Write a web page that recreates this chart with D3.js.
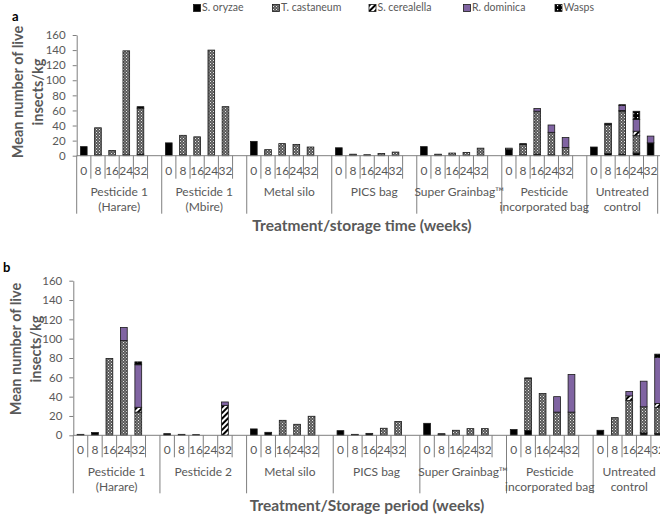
<!DOCTYPE html>
<html><head><meta charset="utf-8">
<script src="https://cdn.jsdelivr.net/npm/d3@7/dist/d3.min.js"></script>
<style>
body{margin:0;background:#fff;}
svg{display:block;font-family:Lato,"Open Sans",sans-serif;}
</style></head>
<body><svg id="c" width="660" height="517"></svg>
<script>
// ---------- data ----------
const weeks = ["0","8","16","24","32"];
const seriesNames = ["S. oryzae","T. castaneum","S. cerealella","R. dominica","Wasps"];
const yTicks = [0,20,40,60,80,100,120,140,160];
const groupLabelsA = [["Pesticide 1","(Harare)"],["Pesticide 1","(Mbire)"],["Metal silo"],["PICS bag"],["Super Grainbag™"],["Pesticide","incorporated bag"],["Untreated","control"]];
const groupLabelsB = [["Pesticide 1","(Harare)"],["Pesticide 2"],["Metal silo"],["PICS bag"],["Super Grainbag™"],["Pesticide","incorporated bag"],["Untreated","control"]];
const titleA = "Treatment/storage time (weeks)";
const titleB = "Treatment/Storage period (weeks)";

// panel a (7 groups x 5 weeks)
const a_oryzae    = [12,1,0,1,2,  17,1,0,0,0,  19,0,0,0,0,  10.5,0.5,0,0,0,  12,0.5,0,0,0,  8,1,2,1,0,  11.5,3,2,3.5,17];
const a_castaneum = [0,36,7,138,61,  0,26,25,140,65,  0,8,16,15,11.5,  0,1.5,1.3,3,4.8,  0,1.5,3.5,4.4,10,  2,14,57,30,11,  0,38,57,23,0];
const a_cerealella= [0,0,0,0,0,  0,0,0,0,0,  0,0,0,0,0,  0,0,0,0,0,  0,0,0,0,0,  0,0,0,0,0,  0,0,1,6,0];
const a_dominica  = [0,0,0,0,0,  0,0,0,0,0,  0,0,0,0,0,  0,0,0,0,0,  0,0,0,0,0,  0,0,3.5,9.7,13,  0,0,6.6,15.4,9];
const a_wasps     = [0,0,0,0,2,  0,0,0,0,0,  0,0,0,0,0,  0,0,0,0,0,  0,0,0,0,0,  0,1,0,0,0,  0,2,1,11,0];

// panel b
const b_oryzae    = [1,2.8,0,0,0,  1.7,1,0.7,0,0,  6.6,3.1,0,0,0,  4.8,1,2,0,0,  12.4,1,0,0,0,  5.9,5,0,0,0,  5.2,0,0,2.5,2];
const b_castaneum = [0,0,79.5,98,24,  0,0,0,0,0,  0,0,15.5,11.4,19.7,  0,0,0,7.3,14.2,  0,0.7,5.2,6.9,6.9,  0,54,43.2,24,24,  0,18.3,36,27,27];
const b_cerealella= [0,0,0,0,5,  0,0,0,0,31,  0,0,0,0,0,  0,0,0,0,0,  0,0,0,0,0,  0,0,0,0,0,  0,0,4.8,0,4];
const b_dominica  = [0,0,0,13.6,44,  0,0,0,0,3.5,  0,0,0,0,0,  0,0,0,0,0,  0,0,0,0,0,  0,0,0,16,38.9,  0,0,4.5,26.5,47.5];
const b_wasps     = [0,0,0,0,3,  0,0,0,0,0,  0,0,0,0,0,  0,0,0,0,0,  0,0,0,0,0,  0,0.4,0,0,0,  0,0,0,0,3.5];

// ---------- drawing ----------
const svg = d3.select("#c");
const defs = svg.append("defs");
const grey = "#595959";

(function(){
  let p = defs.append("pattern").attr("id","pCast").attr("patternUnits","userSpaceOnUse").attr("width",3).attr("height",3);
  p.append("rect").attr("width",3).attr("height",3).attr("fill","#5a5a5a");
  p.append("rect").attr("x",0).attr("y",0).attr("width",1).attr("height",1).attr("fill","#e8e8e8");
  p.append("rect").attr("x",1.5).attr("y",1.5).attr("width",1).attr("height",1).attr("fill","#bdbdbd");
  p = defs.append("pattern").attr("id","pCer").attr("patternUnits","userSpaceOnUse").attr("width",4).attr("height",4).attr("patternTransform","rotate(45)");
  p.append("rect").attr("width",4).attr("height",4).attr("fill","#fff");
  p.append("rect").attr("width",2).attr("height",4).attr("fill","#000");
  p = defs.append("pattern").attr("id","pWasp").attr("patternUnits","userSpaceOnUse").attr("width",4).attr("height",4);
  p.append("rect").attr("width",4).attr("height",4).attr("fill","#000");
  p.append("rect").attr("x",1).attr("y",1).attr("width",1.2).attr("height",1.2).attr("fill","#fff");
})();
const fills = ["#000","url(#pCast)","url(#pCer)","#8064a2","url(#pWasp)"];
const keys = ["oryzae","castaneum","cerealella","dominica","wasps"];

function drawPanel(cfg){
  const g = svg.append("g");
  const nGroups = cfg.groups.length;
  const cats = [];
  const rows = [];
  for(let gi=0; gi<nGroups; gi++){
    for(let w=0; w<weeks.length; w++){
      const k = gi+"-"+w; cats.push(k);
      const i = gi*weeks.length+w;
      rows.push({key:k, oryzae:cfg.s[0][i], castaneum:cfg.s[1][i], cerealella:cfg.s[2][i], dominica:cfg.s[3][i], wasps:cfg.s[4][i]});
    }
    if(gi<nGroups-1) cats.push(gi+"-x");
  }
  const x = d3.scaleBand().domain(cats).range([cfg.x0, cfg.x0 + cats.length*cfg.slot]).padding(0);
  const y = d3.scaleLinear().domain([0,160]).range([cfg.y0, cfg.yTop]);
  const stack = d3.stack().keys(keys)(rows);
  const bw = x.bandwidth()*0.47;

  stack.forEach((layer, li) => {
    g.append("g").selectAll("rect").data(layer.filter(d => d[1]-d[0] > 0)).join("rect")
      .attr("x", d => x(d.data.key) + (x.bandwidth()-bw)/2)
      .attr("y", d => y(d[1]))
      .attr("width", bw)
      .attr("height", d => y(d[0]) - y(d[1]))
      .attr("fill", fills[li])
      .attr("stroke", "#1a1a1a").attr("stroke-width", 0.8);
  });

  const ya = g.append("g").attr("transform", `translate(${cfg.x0},0)`)
    .call(d3.axisLeft(y).tickValues(yTicks).tickSize(4).tickSizeOuter(0).tickPadding(7));
  ya.select(".domain").attr("stroke","#7f7f7f");
  ya.selectAll(".tick line").attr("stroke","#7f7f7f");
  ya.selectAll(".tick text").attr("fill",grey).attr("font-size",11.5).attr("font-family","Lato, sans-serif");

  g.append("line").attr("x1",cfg.x0).attr("x2",660).attr("y1",cfg.y0).attr("y2",cfg.y0).attr("stroke","#7f7f7f");
  const ax = g.append("g");
  cats.forEach((c,i) => {
    const isStart = (i===0) || (cats[i-1].split("-")[0] !== c.split("-")[0]);
    const xl = x(c);
    ax.append("line").attr("x1",xl).attr("x2",xl).attr("y1",cfg.y0)
      .attr("y2", cfg.y0 + (isStart ? cfg.groupLen : cfg.weekLen)).attr("stroke","#7f7f7f");
    const w = c.split("-")[1];
    if(w !== "x"){
      ax.append("text").attr("x", xl + x.bandwidth()/2).attr("y", cfg.y0 + cfg.weekDy)
        .attr("text-anchor","middle").attr("dominant-baseline","middle")
        .attr("fill",grey).attr("font-size",12).text(weeks[+w]);
    }
  });
  const xEnd = x.range()[1];
  ax.append("line").attr("x1",xEnd).attr("x2",xEnd).attr("y1",cfg.y0).attr("y2",cfg.y0+cfg.groupLen).attr("stroke","#7f7f7f");
  cfg.groups.forEach((lines, gi) => {
    const first = x(gi+"-0");
    const last = gi<nGroups-1 ? x(gi+"-x") + x.bandwidth() : x(gi+"-4") + x.bandwidth();
    const cx = (first+last)/2;
    lines.forEach((t, li) => {
      ax.append("text").attr("x",cx).attr("y", cfg.y0 + cfg.grpDy + li*cfg.grpLine)
        .attr("text-anchor","middle").attr("dominant-baseline","middle")
        .attr("fill",grey).attr("font-size",12).text(t);
    });
  });
  g.append("text").attr("x",cfg.titleX).attr("y",cfg.titleY).attr("text-anchor","middle")
    .attr("dominant-baseline","middle").attr("font-weight","bold").attr("font-size",15.5)
    .attr("fill",grey).text(cfg.title);
  const yt = g.append("text").attr("transform",`translate(${cfg.ytX},${cfg.ytY}) rotate(-90)`)
    .attr("text-anchor","middle").attr("font-weight","bold").attr("font-size",14.5).attr("fill",grey);
  yt.append("tspan").attr("x",0).attr("dy",0).text("Mean number of live");
  yt.append("tspan").attr("x",0).attr("dy",20).text("insects/kg");
  svg.append("text").attr("x",cfg.letterX).attr("y",cfg.letterY).attr("font-weight","bold")
    .attr("font-size",13).attr("fill","#000").text(cfg.letter);
}

drawPanel({s:[a_oryzae,a_castaneum,a_cerealella,a_dominica,a_wasps], groups:groupLabelsA, title:titleA,
  x0:76.7, slot:14.17, y0:155.7, yTop:35, weekLen:23, groupLen:58, weekDy:16, grpDy:37, grpLine:15,
  titleX:362, titleY:227, ytX:23, ytY:92, letter:"a", letterX:12, letterY:21});
drawPanel({s:[b_oryzae,b_castaneum,b_cerealella,b_dominica,b_wasps], groups:groupLabelsB, title:titleB,
  x0:73.3, slot:14.44, y0:435.3, yTop:280.7, weekLen:22, groupLen:58, weekDy:16, grpDy:38, grpLine:15,
  titleX:367, titleY:507, ytX:21, ytY:349, letter:"b", letterX:3, letterY:272});

const legX = [193.5, 272.5, 369, 463.5, 555];
const leg = svg.append("g");
seriesNames.forEach((n,i) => {
  leg.append("rect").attr("x",legX[i]).attr("y",4.5).attr("width",7).attr("height",7)
    .attr("fill",fills[i]).attr("stroke","#1a1a1a").attr("stroke-width",0.8);
  leg.append("text").attr("x",legX[i]+8.5).attr("y",8.5).attr("dominant-baseline","middle")
    .attr("font-size",10.5).attr("fill",grey).text(n);
});
</script>
</body></html>
